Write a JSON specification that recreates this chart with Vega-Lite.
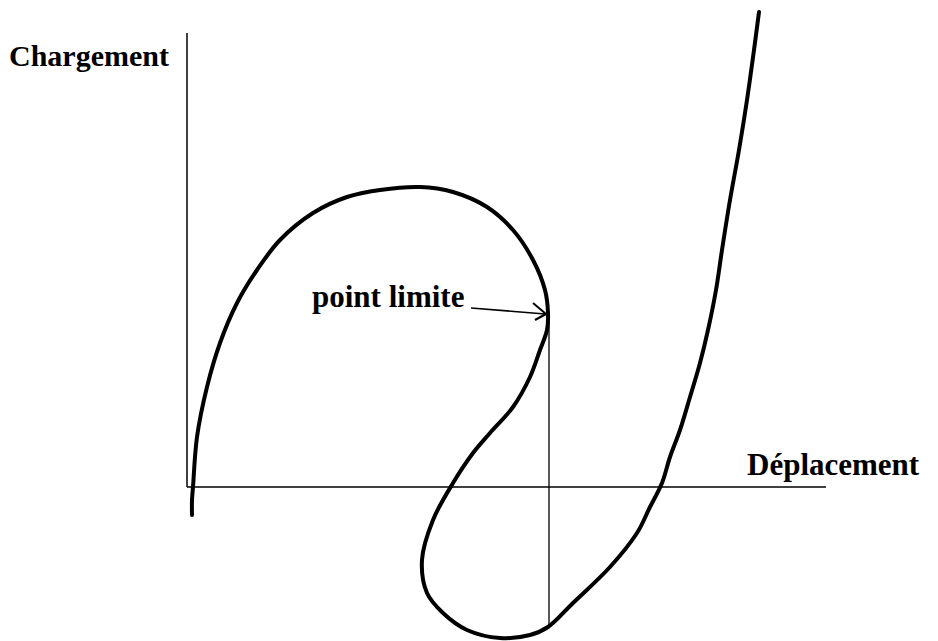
{
  "$schema": "https://vega.github.io/schema/vega-lite/v6.json",
  "width": 938,
  "height": 641,
  "autosize": {"type": "fit", "contains": "padding"},
  "padding": 0,
  "background": "white",
  "config": {"view": {"stroke": null}},
  "datasets": {
    "curve": [
      {"i": 0, "d": 0.05, "c": -0.28},
      {"i": 1, "d": 0.05, "c": -0.13},
      {"i": 2, "d": 0.06, "c": 0.0},
      {"i": 3, "d": 0.10, "c": 0.50},
      {"i": 4, "d": 0.20, "c": 1.00},
      {"i": 5, "d": 0.33, "c": 1.44},
      {"i": 6, "d": 0.50, "c": 1.84},
      {"i": 7, "d": 0.70, "c": 2.17},
      {"i": 8, "d": 0.93, "c": 2.47},
      {"i": 9, "d": 1.26, "c": 2.74},
      {"i": 10, "d": 1.60, "c": 2.90},
      {"i": 11, "d": 1.93, "c": 2.97},
      {"i": 12, "d": 2.33, "c": 3.00},
      {"i": 13, "d": 2.66, "c": 2.95},
      {"i": 14, "d": 3.00, "c": 2.80},
      {"i": 15, "d": 3.26, "c": 2.57},
      {"i": 16, "d": 3.46, "c": 2.27},
      {"i": 17, "d": 3.58, "c": 1.97},
      {"i": 18, "d": 3.61, "c": 1.74},
      {"i": 19, "d": 3.60, "c": 1.57},
      {"i": 20, "d": 3.53, "c": 1.37},
      {"i": 21, "d": 3.43, "c": 1.10},
      {"i": 22, "d": 3.26, "c": 0.80},
      {"i": 23, "d": 3.03, "c": 0.54},
      {"i": 24, "d": 2.86, "c": 0.34},
      {"i": 25, "d": 2.66, "c": 0.04},
      {"i": 26, "d": 2.46, "c": -0.33},
      {"i": 27, "d": 2.35, "c": -0.73},
      {"i": 28, "d": 2.40, "c": -1.06},
      {"i": 29, "d": 2.56, "c": -1.26},
      {"i": 30, "d": 2.80, "c": -1.43},
      {"i": 31, "d": 3.13, "c": -1.51},
      {"i": 32, "d": 3.43, "c": -1.48},
      {"i": 33, "d": 3.61, "c": -1.40},
      {"i": 34, "d": 3.86, "c": -1.16},
      {"i": 35, "d": 4.23, "c": -0.80},
      {"i": 36, "d": 4.50, "c": -0.46},
      {"i": 37, "d": 4.63, "c": -0.20},
      {"i": 38, "d": 4.75, "c": 0.04},
      {"i": 39, "d": 4.83, "c": 0.30},
      {"i": 40, "d": 4.93, "c": 0.57},
      {"i": 41, "d": 5.03, "c": 0.90},
      {"i": 42, "d": 5.13, "c": 1.24},
      {"i": 43, "d": 5.21, "c": 1.57},
      {"i": 44, "d": 5.29, "c": 1.97},
      {"i": 45, "d": 5.35, "c": 2.37},
      {"i": 46, "d": 5.43, "c": 2.87},
      {"i": 47, "d": 5.52, "c": 3.37},
      {"i": 48, "d": 5.60, "c": 3.87},
      {"i": 49, "d": 5.67, "c": 4.37},
      {"i": 50, "d": 5.72, "c": 4.75}
    ],
    "segments": [
      {"name": "axe vertical", "x": 0, "x2": 0, "y": 0, "y2": 4.54, "w": 1.5},
      {"name": "axe horizontal", "x": 0, "x2": 6.39, "y": 0, "y2": 0, "w": 1.5},
      {"name": "verticale point limite", "x": 3.62, "x2": 3.62, "y": 1.74, "y2": -1.41, "w": 1.3},
      {"name": "fleche", "x": 2.84, "x2": 3.58, "y": 1.79, "y2": 1.73, "w": 1.6},
      {"name": "pointe haute", "x": 3.46, "x2": 3.59, "y": 1.84, "y2": 1.73, "w": 2},
      {"name": "pointe basse", "x": 3.48, "x2": 3.59, "y": 1.67, "y2": 1.73, "w": 2}
    ],
    "labels": [
      {"text": "Chargement", "x": -1.78, "y": 4.21, "size": 30},
      {"text": "Déplacement", "x": 5.60, "y": 0.12, "size": 31},
      {"text": "point limite", "x": 1.25, "y": 1.80, "size": 31}
    ]
  },
  "layer": [
    {
      "data": {"name": "segments"},
      "mark": {"type": "rule", "color": "black"},
      "encoding": {
        "x": {"field": "x", "type": "quantitative", "scale": {"domain": [-1.87, 7.51], "nice": false, "zero": false}, "axis": null},
        "x2": {"field": "x2"},
        "y": {"field": "y", "type": "quantitative", "scale": {"domain": [-1.54, 4.87], "nice": false, "zero": false}, "axis": null},
        "y2": {"field": "y2"},
        "strokeWidth": {"field": "w", "type": "quantitative", "scale": null}
      }
    },
    {
      "data": {"name": "curve"},
      "mark": {"type": "line", "color": "black", "strokeWidth": 4, "interpolate": "catmull-rom", "strokeCap": "round", "strokeJoin": "round"},
      "encoding": {
        "x": {"field": "d", "type": "quantitative"},
        "y": {"field": "c", "type": "quantitative"},
        "order": {"field": "i", "type": "quantitative"}
      }
    },
    {
      "data": {"name": "labels"},
      "mark": {"type": "text", "font": "Liberation Serif", "fontWeight": "bold", "align": "left", "baseline": "alphabetic", "color": "black"},
      "encoding": {
        "x": {"field": "x", "type": "quantitative"},
        "y": {"field": "y", "type": "quantitative"},
        "text": {"field": "text"},
        "size": {"field": "size", "type": "quantitative", "scale": null}
      }
    }
  ]
}
